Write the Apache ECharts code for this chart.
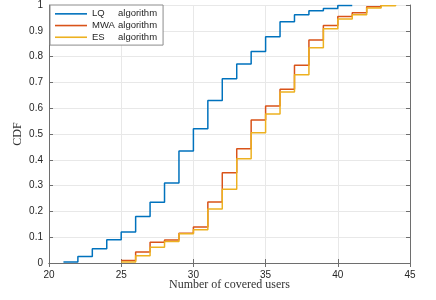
<!DOCTYPE html>
<html>
<head>
<meta charset="utf-8">
<script src="https://cdn.jsdelivr.net/npm/echarts@6/dist/echarts.min.js"></script>
<style>html,body{margin:0;padding:0;background:#fff}#c{width:436px;height:300px}</style>
</head>
<body>
<div id="c"></div>
<script>
var lqX = [21,22,23,24,25,26,27,28,29,30,31,32,33,34,35,36,37,38,39,40,41];
var lqY = [0.004,0.025,0.055,0.09,0.12,0.18,0.235,0.31,0.434,0.52,0.63,0.714,0.771,0.82,0.877,0.935,0.962,0.978,0.986,0.998,1];
var mwaX = [25,26,27,28,29,30,31,32,33,34,35,36,37,38,39,40,41,42,43];
var mwaY = [0.01,0.043,0.08,0.089,0.115,0.14,0.236,0.35,0.443,0.554,0.609,0.673,0.766,0.864,0.921,0.955,0.97,0.993,1];
var esX = [25,26,27,28,29,30,31,32,33,34,35,36,37,38,39,40,41,42,43,44];
var esY = [0.004,0.028,0.061,0.083,0.113,0.129,0.209,0.286,0.404,0.505,0.578,0.663,0.73,0.834,0.908,0.946,0.962,0.988,0.997,1];
var seriesNames = ['LQ algorithm','MWA algorithm','ES algorithm'];
var seriesShort = ['LQ','MWA','ES'];
var colors = ['#0072BD','#D95319','#EDB120'];
var xTicks = {min:20, max:45, interval:5};
var yTicks = {min:0, max:1, interval:0.1};

function pairs(xs, ys){ return xs.map(function(x,i){ return [x, ys[i]]; }); }

var axisCol = '#6e6e6e';
var gridCol = '#e8e8e8';
var labelFont = {color:'#262626', fontSize:10, fontFamily:'Liberation Sans'};

var chart = echarts.init(document.getElementById('c'), null, {renderer:'canvas'});
chart.setOption({
  animation:false,
  backgroundColor:'#fff',
  grid:{left:49, right:26, top:5, bottom:37, containLabel:false},
  legend:{
    left:50, top:5, orient:'vertical',
    data:seriesNames.map(function(n){ return {name:n, icon:'rect'}; }),
    itemWidth:32, itemHeight:1.6, itemGap:0,
    padding:[3,6,2,5],
    borderColor:'#8c8c8c', borderWidth:1, backgroundColor:'#fff',
    formatter:function(name){ var i = seriesNames.indexOf(name); return '{n|'+seriesShort[i]+'}{a|algorithm}'; },
    textStyle:{color:'#262626', fontSize:9.5, fontFamily:'Liberation Sans', lineHeight:11.7,
      rich:{n:{width:26, fontSize:9.5, lineHeight:11.7, fontFamily:'Liberation Sans', color:'#262626'}, a:{fontSize:9.5, lineHeight:11.7, fontFamily:'Liberation Sans', color:'#262626'}}}
  },
  xAxis:[{
    type:'value', min:xTicks.min, max:xTicks.max, interval:xTicks.interval, position:'bottom',
    name:'Number of covered users', nameLocation:'middle', nameGap:16, nameMoveOverlap:false,
    nameTextStyle:{color:'#333', fontSize:12, fontFamily:'Liberation Serif'},
    axisLine:{show:true, lineStyle:{color:axisCol, width:1}},
    axisTick:{show:true, inside:true, length:4, lineStyle:{color:axisCol}},
    axisLabel:Object.assign({margin:7}, labelFont),
    splitLine:{show:true, lineStyle:{color:gridCol, width:1}}
  },{
    type:'value', min:xTicks.min, max:xTicks.max, interval:xTicks.interval, position:'top',
    axisLine:{show:true, lineStyle:{color:axisCol, width:1}},
    axisTick:{show:true, inside:true, length:4, lineStyle:{color:axisCol}},
    axisLabel:{show:false}, splitLine:{show:false}
  }],
  yAxis:[{
    type:'value', min:yTicks.min, max:yTicks.max, interval:yTicks.interval, position:'left',
    name:'CDF', nameLocation:'middle', nameGap:25, nameMoveOverlap:false,
    nameTextStyle:{color:'#333', fontSize:12, fontFamily:'Liberation Serif'},
    axisLine:{show:true, lineStyle:{color:axisCol, width:1}},
    axisTick:{show:true, inside:true, length:4, lineStyle:{color:axisCol}},
    axisLabel:Object.assign({margin:6, formatter:function(v){ return String(Math.round(v*10)/10); }}, labelFont),
    splitLine:{show:true, lineStyle:{color:gridCol, width:1}}
  },{
    type:'value', min:yTicks.min, max:yTicks.max, interval:yTicks.interval, position:'right',
    axisLine:{show:true, lineStyle:{color:axisCol, width:1}},
    axisTick:{show:true, inside:true, length:4, lineStyle:{color:axisCol}},
    axisLabel:{show:false}, splitLine:{show:false}
  }],
  series:[
    {name:seriesNames[0], type:'line', step:'end', data:pairs(lqX,lqY), symbol:'none', color:colors[0], lineStyle:{width:1.5, color:colors[0]}, xAxisIndex:0, yAxisIndex:0},
    {name:seriesNames[1], type:'line', step:'end', data:pairs(mwaX,mwaY), symbol:'none', color:colors[1], lineStyle:{width:1.5, color:colors[1]}, xAxisIndex:0, yAxisIndex:0},
    {name:seriesNames[2], type:'line', step:'end', data:pairs(esX,esY), symbol:'none', color:colors[2], lineStyle:{width:1.5, color:colors[2]}, xAxisIndex:0, yAxisIndex:0}
  ]
});
</script>
</body>
</html>
